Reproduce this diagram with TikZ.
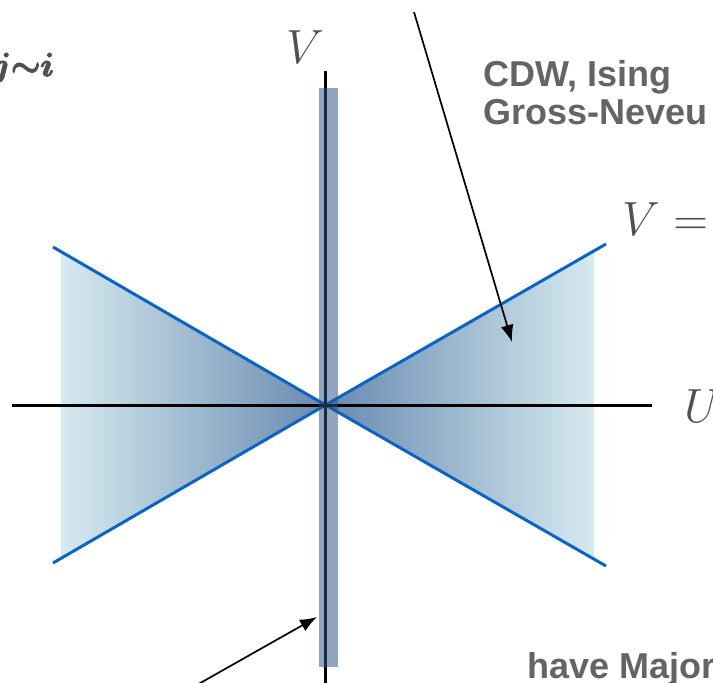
\documentclass[tikz,border=0pt]{standalone}
\usepackage{fix-cm}
\usepackage{fontspec}
\usepackage{amsmath}
\usetikzlibrary{arrows.meta}
\DeclareFontShape{OML}{cmm}{b}{it}{<->cmmib10}{}
\DeclareFontShape{OMS}{cmsy}{b}{n}{<->cmbsy10}{}
\newfontfamily\lblfont{Liberation Sans}
\definecolor{conedark}{RGB}{104,138,176}
\definecolor{conelight}{RGB}{214,234,239}
\definecolor{coneline}{RGB}{10,100,200}
\definecolor{bandcol}{RGB}{47,85,132}
\definecolor{txtgray}{RGB}{100,100,100}
\definecolor{mathgray}{RGB}{80,80,80}
\newcommand{\fauxbold}[1]{\special{pdf:literal direct 2 Tr 1.2 w}#1\special{pdf:literal direct 0 Tr}}
\tikzset{
  axisline/.style={line width=3pt, black},
  conebound/.style={line width=3pt, coneline},
  pointer/.style={line width=1.7pt, black, -{Latex[length=17pt,width=13pt]}},
  lbl/.style={font=\lblfont\bfseries\fontsize{36}{41}\selectfont, text=txtgray, inner sep=0pt, anchor=base west},
  mathlbl/.style={font=\fontsize{48}{50}\selectfont, text=mathgray, inner sep=0pt, anchor=base west},
}
\begin{document}
\begin{tikzpicture}[x=1pt,y=-1pt]
\useasboundingbox (0,0) rectangle (713,683);
% cone geometry
\coordinate (O) at (325.5,405);
\coordinate (RT) at (606,244);
\coordinate (RB) at (606,566);
\coordinate (LT) at (53,247);
\coordinate (LB) at (53,563);
\shade[left color=conedark, right color=conelight] (O) -- (594,251) -- (594,559) -- cycle;
\shade[left color=conelight, right color=conedark] (O) -- (61,251.6) -- (61,558.6) -- cycle;
\draw[conebound] (LT) -- (O) -- (RB);
\draw[conebound] (LB) -- (O) -- (RT);
% axes
\coordinate (Ul) at (12,405);
\coordinate (Ur) at (652,405);
\coordinate (Vtop) at (325.5,71);
\coordinate (Vbot) at (325.5,683);
\draw[axisline] (Ul) -- (Ur);
\draw[axisline] (Vtop) -- (Vbot);
% band
\fill[bandcol, opacity=0.53] (318.5,88) rectangle (337.5,667);
% pointers
\coordinate (p1s) at (414,12);
\coordinate (p1e) at (512,342);
\draw[pointer] (p1s) -- (p1e);
\coordinate (p2s) at (195,686);
\coordinate (p2e) at (317,617);
\draw[pointer] (p2s) -- (p2e);
% labels
\node[lbl] (cdw) at (483,86) {CDW, Ising};
\node[lbl] (gn) at (483,124) {Gross-Neveu};
\node[lbl] (maj) at (527,678) {have Major};
\node[mathlbl] (vlab) at (286,63) {$V$};
\node[mathlbl] (veq) at (622,235) {$V =$};
\node[mathlbl] (ulab) at (684,422) {$U$};
\node[font=\fontsize{33}{35}\selectfont\boldmath, text=mathgray, inner sep=0pt, anchor=base east] (sub) at (54,76) {\fauxbold{$j{\sim}i$}};
\end{tikzpicture}
\end{document}
